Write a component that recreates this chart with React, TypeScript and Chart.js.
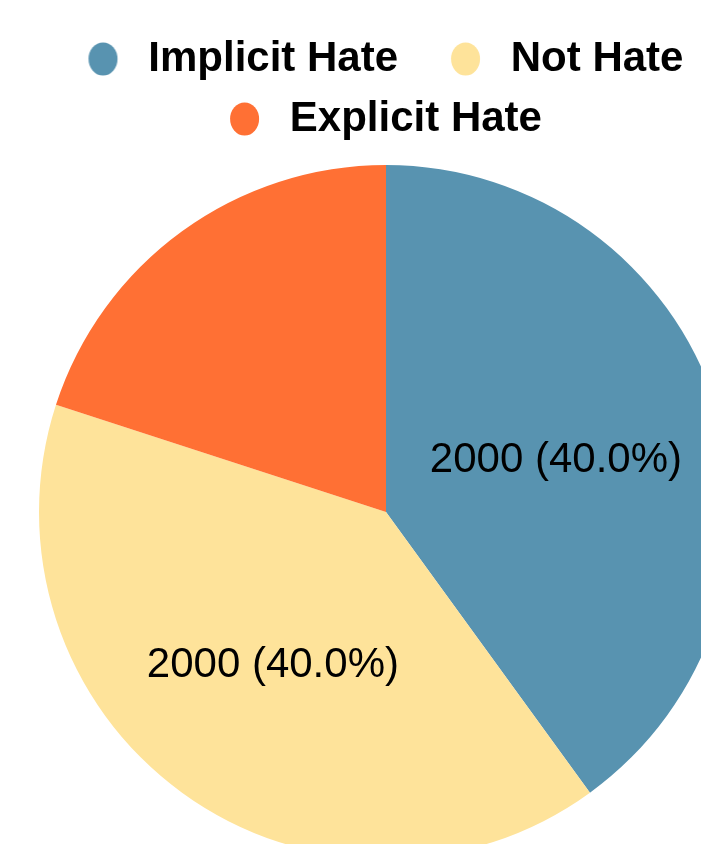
import React, { useEffect, useRef } from "react";
import { Chart, registerables } from "chart.js";

Chart.register(...registerables);

const categories = ["Implicit Hate", "Not Hate", "Explicit Hate"];
const counts = [2000, 2000, 1000];
const colors = ["#5893b0", "#fee39a", "#ff7034"];
const showSliceLabel = [true, true, false];

function makeDot(color: string): HTMLCanvasElement {
  const c = document.createElement("canvas");
  c.width = 49;
  c.height = 34;
  const ctx = c.getContext("2d")!;
  ctx.fillStyle = color;
  ctx.beginPath();
  ctx.ellipse(19.6, 17, 14.5, 16.5, 0, 0, Math.PI * 2);
  ctx.fill();
  return c;
}

const sliceLabelPlugin = {
  id: "sliceLabels",
  afterDatasetsDraw(chart: any) {
    const meta = chart.getDatasetMeta(0);
    const data = chart.data.datasets[0].data as number[];
    const total = data.reduce((a, b) => a + b, 0);
    const ctx = chart.ctx;
    ctx.save();
    ctx.font = "42px 'Liberation Sans', Arial, sans-serif";
    ctx.fillStyle = "#000000";
    ctx.textAlign = "center";
    ctx.textBaseline = "middle";
    meta.data.forEach((arc: any, i: number) => {
      if (!showSliceLabel[i]) return;
      const p = arc.getProps(["x", "y", "startAngle", "endAngle", "outerRadius"], true);
      const mid = (p.startAngle + p.endAngle) / 2;
      const r = p.outerRadius * 0.53;
      const x = p.x + Math.cos(mid) * r - 5;
      const y = p.y + Math.sin(mid) * r + 5;
      const pct = ((data[i] / total) * 100).toFixed(1);
      ctx.fillText(`${data[i]} (${pct}%)`, x, y);
    });
    ctx.restore();
  },
};

export default function App() {
  const ref = useRef<HTMLCanvasElement | null>(null);
  useEffect(() => {
    if (!ref.current) return;
    const dots = colors.map(makeDot);
    const chart = new Chart(ref.current, {
      type: "pie",
      data: {
        labels: categories,
        datasets: [
          {
            data: counts,
            backgroundColor: colors,
            borderWidth: 0,
          },
        ],
      },
      options: {
        animation: false,
        responsive: true,
        maintainAspectRatio: false,
        layout: { padding: { top: 12, left: 0, right: 0, bottom: 0 } },
        plugins: {
          tooltip: { enabled: false },
          legend: {
            position: "top",
            labels: {
              usePointStyle: true,
              pointStyleWidth: 38.75,
              padding: 18,
              color: "#1a1a1a",
              font: { family: "'Liberation Sans', Arial, sans-serif", size: 42, weight: "bold" },
              generateLabels: () =>
                categories.map((c, i) => ({
                  text: i === 0 ? c + "   " : c,
                  fillStyle: colors[i],
                  strokeStyle: colors[i],
                  lineWidth: 0,
                  pointStyle: dots[i],
                  hidden: false,
                  index: i,
                })),
            },
          },
        },
      },
      plugins: [sliceLabelPlugin],
    });
    return () => chart.destroy();
  }, []);
  return (
    <div style={{ position: "fixed", left: 0, top: 0, width: 701, height: 844, overflow: "hidden" }}>
      <div style={{ position: "absolute", left: 39, top: 8, width: 694, height: 866 }}>
        <canvas ref={ref} />
      </div>
    </div>
  );
}
